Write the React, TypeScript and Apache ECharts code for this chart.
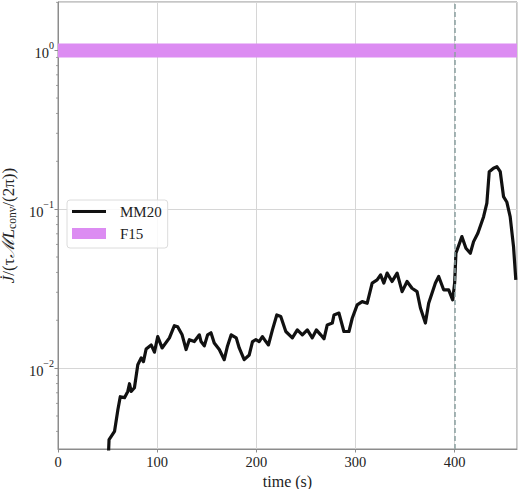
import React, { useEffect, useRef } from 'react';
import * as echarts from 'echarts';

// MM20 curve (time in s, normalised torque)
const timeS = [
  51.0, 51.5, 53.7, 57.0, 60.4, 62.8, 67.1, 70.4, 72.1, 73.8, 77.1, 80.5, 83.9, 86.2, 88.9,
  94.0, 97.3, 100.6, 105.0, 112.4, 117.4, 120.7, 125.2, 129.2, 132.5, 137.5, 142.6, 144.3,
  147.6, 150.9, 154.3, 157.6, 162.7, 167.7, 171.0, 174.7, 179.8, 182.8, 187.8, 192.9, 196.2,
  199.6, 202.9, 206.2, 209.7, 212.3, 216.3, 220.7, 224.7, 229.8, 236.4, 241.4, 246.5, 251.5,
  256.5, 260.6, 265.0, 268.3, 271.6, 276.7, 278.4, 283.4, 288.4, 293.5, 296.8, 301.8, 306.8,
  311.9, 316.9, 321.9, 325.4, 328.7, 332.0, 337.0, 342.1, 347.1, 352.1, 357.1, 362.2, 365.6,
  370.6, 373.9, 380.7, 384.0, 389.0, 394.1, 398.1, 400.1, 401.4, 407.4, 411.5, 415.9, 419.2,
  423.5, 429.3, 432.6, 435.0, 439.3, 442.7, 446.1, 449.4, 452.7, 456.1, 459.5, 461.8,
];
const jdot = [
  0.00298, 0.00355, 0.00372, 0.004, 0.00548, 0.00661, 0.00652, 0.00714, 0.00798, 0.00714,
  0.00753, 0.0105, 0.0116, 0.011, 0.0132, 0.014, 0.0126, 0.0158, 0.0134, 0.0155, 0.0185,
  0.0182, 0.0162, 0.0131, 0.0151, 0.0147, 0.0162, 0.0147, 0.0138, 0.0162, 0.0167, 0.0144,
  0.0131, 0.0113, 0.0138, 0.0162, 0.0155, 0.0134, 0.0113, 0.0121, 0.0147, 0.0151, 0.0147,
  0.0158, 0.0147, 0.014, 0.0174, 0.0216, 0.0211, 0.017, 0.0155, 0.0174, 0.0162, 0.0174,
  0.0155, 0.0174, 0.0162, 0.0153, 0.0187, 0.0192, 0.0216, 0.0222, 0.017, 0.017, 0.0206,
  0.025, 0.0262, 0.0256, 0.0343, 0.0359, 0.0386, 0.0343, 0.0396, 0.0351, 0.0396, 0.0303,
  0.0351, 0.0318, 0.0303, 0.0239, 0.0192, 0.0256, 0.0343, 0.0377, 0.0311, 0.0311, 0.0269,
  0.0343, 0.0528, 0.0672, 0.0568, 0.0528, 0.0625, 0.0706, 0.0897, 0.109, 0.172, 0.181,
  0.185, 0.172, 0.12, 0.111, 0.0897, 0.0581, 0.0359,
];

// F15 band (lower, upper)
const f15Band = [0.9, 1.1];
const markerTime = 400;

const xTicks = [0, 100, 200, 300, 400];
const yDecades = [-2, -1, 0];
const yMinorTicks = [
  0.004, 0.005, 0.006, 0.007, 0.008, 0.009,
  0.02, 0.03, 0.04, 0.05, 0.06, 0.07, 0.08, 0.09,
  0.2, 0.3, 0.4, 0.5, 0.6, 0.7, 0.8, 0.9, 2,
];

const FONT = '"Liberation Serif", "DejaVu Serif", serif';
const FRAME = '#8c8c8c';
const GRID = '#d6d6d6';
const PINK = '#dc8cf2';
// 34x11 box with a 3px bar across the middle, so the legend keeps it full width
const LINE_ICON = 'path://M0,0 M0,4 L34,4 L34,7 L0,7 Z M34,11';

const App: React.FC = () => {
  const chartRef = useRef<HTMLDivElement>(null);

  useEffect(() => {
    if (!chartRef.current) return;
    const chart = echarts.init(chartRef.current, undefined, { renderer: 'svg' });

    const option = {
      animation: false,
      textStyle: { fontFamily: FONT },
      grid: {
        left: 58,
        right: 3,
        top: 2,
        bottom: 40,
        containLabel: false,
        outerBoundsMode: 'none',
        show: true,
        borderColor: FRAME,
        borderWidth: 1,
      },
      legend: {
        orient: 'vertical',
        left: 67,
        top: 200,
        padding: [4, 6, 7, 5],
        itemGap: 7,
        itemWidth: 34,
        itemHeight: 11,
        backgroundColor: 'rgba(255,255,255,0.85)',
        borderColor: '#dcdcdc',
        borderWidth: 1,
        borderRadius: 3,
        textStyle: { fontFamily: FONT, fontSize: 15, color: '#222', padding: [0, 0, 0, 9] },
        data: [
          { name: 'MM20', icon: LINE_ICON, itemStyle: { color: '#111' } },
          { name: 'F15', icon: 'rect', itemStyle: { color: PINK } },
        ],
      },
      xAxis: {
        type: 'value',
        min: 0,
        max: 463,
        interval: 100,
        name: 'time (s)',
        nameLocation: 'middle',
        nameGap: 20,
        nameTextStyle: { fontFamily: FONT, fontSize: 16, color: '#222' },
        axisLine: { show: true, lineStyle: { color: FRAME } },
        axisTick: { show: true, length: 3.5, lineStyle: { color: FRAME } },
        axisLabel: {
          margin: 5,
          fontFamily: FONT,
          fontSize: 14.5,
          color: '#222',
          showMaxLabel: false,
          formatter: (v: number) => (xTicks.includes(v) ? String(v) : ''),
        },
        splitLine: { show: true, lineStyle: { color: GRID, width: 1 } },
      },
      yAxis: {
        type: 'log',
        logBase: 10,
        min: 0.0031,
        max: 2.01,
        name: '{i|J̇}/(τ{m|ℳ}{i|L}{sub|conv}/(2π))',
        nameLocation: 'middle',
        nameGap: 34,
        nameTextStyle: {
          fontFamily: FONT,
          fontSize: 17,
          color: '#222',
          lineHeight: 19,
          rich: {
            i: { fontFamily: FONT, fontStyle: 'italic', fontSize: 17, lineHeight: 19, color: '#222' },
            m: { fontFamily: FONT, fontStyle: 'italic', fontSize: 17, lineHeight: 19, color: '#222' },
            sub: { fontFamily: FONT, fontSize: 11.5, lineHeight: 19, verticalAlign: 'bottom', color: '#222' },
          },
        },
        axisLine: { show: true, lineStyle: { color: FRAME } },
        axisTick: { show: true, length: 3.5, lineStyle: { color: FRAME } },
        axisLabel: {
          margin: 4,
          color: '#222',
          showMinLabel: false,
          showMaxLabel: false,
          formatter: (v: number) => {
            const e = Math.round(Math.log10(v));
            if (Math.abs(Math.log10(v) - e) > 1e-6 || !yDecades.includes(e)) return '';
            return `{b|10}{s|${e < 0 ? '−' : ''}${Math.abs(e)}}`;
          },
          rich: {
            b: { fontFamily: FONT, fontSize: 14.5, lineHeight: 20, verticalAlign: 'bottom', color: '#222' },
            s: { fontFamily: FONT, fontSize: 10, lineHeight: 20, verticalAlign: 'top', color: '#222' },
          },
        },
        splitLine: { show: true, lineStyle: { color: GRID, width: 1 } },
      },
      series: [
        {
          name: 'F15',
          type: 'line',
          data: [],
          color: PINK,
          symbol: 'none',
          silent: true,
          markArea: {
            silent: true,
            itemStyle: { color: PINK, opacity: 1 },
            data: [[{ yAxis: f15Band[0] }, { yAxis: f15Band[1] }]],
          },
        },
        {
          name: 'MM20',
          type: 'line',
          data: timeS.map((t, i) => [t, jdot[i]]),
          color: '#111',
          symbol: 'none',
          lineStyle: { width: 3.2, color: '#111', join: 'round' },
          z: 3,
          markLine: {
            silent: true,
            symbol: 'none',
            label: { show: false },
            lineStyle: { type: [5, 3], color: '#8aa0a0', width: 1.5 },
            data: [{ xAxis: markerTime }],
          },
        },
        {
          name: 'minorTicks',
          type: 'custom',
          clip: false,
          silent: true,
          data: yMinorTicks.map((v) => [0, v]),
          renderItem: (_params: any, api: any) => {
            const p = api.coord([0, api.value(1)]);
            return {
              type: 'line',
              shape: { x1: p[0] - 2, y1: p[1], x2: p[0], y2: p[1] },
              style: { stroke: FRAME, lineWidth: 0.8 },
            };
          },
        },
      ],
    };

    chart.setOption(option);

    return () => {
      chart.dispose();
    };
  }, []);

  return (
    <div
      ref={chartRef}
      style={{ position: 'fixed', left: 0, top: 0, width: '520px', height: '489px', background: '#fff' }}
    ></div>
  );
};

export default App;
